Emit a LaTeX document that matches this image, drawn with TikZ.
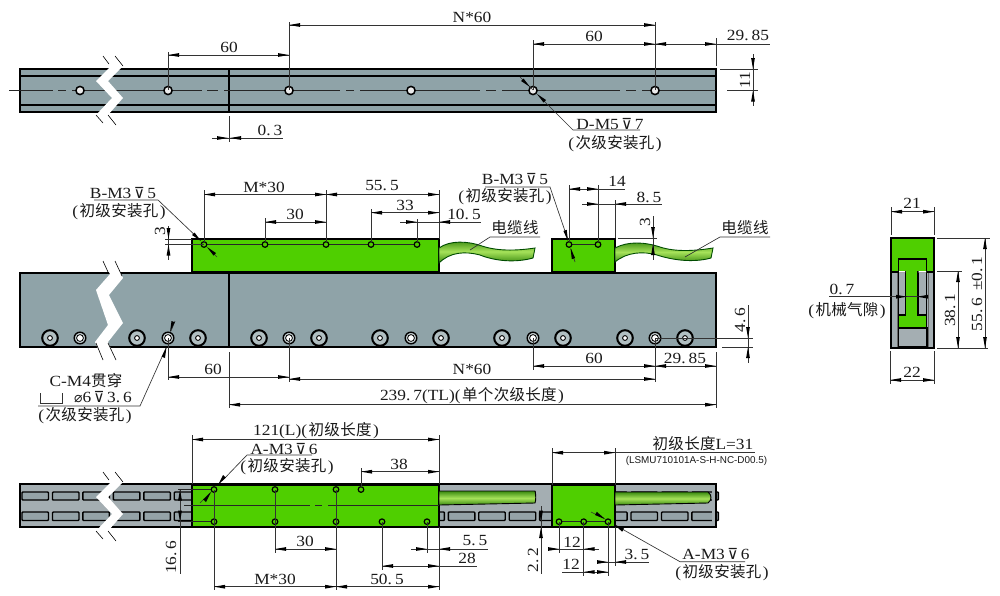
\documentclass[tikz,border=0pt]{standalone}
\usepackage{fontspec}
\setmainfont[FakeStretch=1.12]{Liberation Serif}
\newfontfamily\cjk[LetterSpace=2]{Noto Sans CJK SC}
\newfontfamily\symf{DejaVu Sans}
\newfontfamily\lblsans{Liberation Sans}
\newcommand{\cj}[1]{{\fontsize{15.5pt}{17pt}\cjk #1}}
\newcommand{\dep}{{\symf\fontsize{15pt}{17pt}\selectfont\,⊽\,}}
\newcommand{\pdia}{{\symf\fontsize{14pt}{17pt}\selectfont ⌀}}
\newcommand{\dotk}{.\kern3pt}
\newcommand{\lp}{(\kern1.5pt}
\newcommand{\rp}{\kern1.5pt)}
\newcount\lblc
\definecolor{railc}{HTML}{8FA3A8}
\definecolor{railb}{HTML}{A4AEB2}
\definecolor{slotc}{HTML}{95A3A8}
\definecolor{motor}{HTML}{4FCF00}
\definecolor{tx}{HTML}{1A1A1A}
\definecolor{cabd}{HTML}{3A8A10}
\definecolor{cabl}{HTML}{A6E25A}
\tikzset{
  x=1pt,y=-1pt,
  body/.style={draw=black,line width=1.7pt},
  rail/.style={body,fill=railc},
  railbot/.style={body,fill=railb},
  green/.style={body,fill=motor},
  inner/.style={draw=black,line width=1.3pt},
  dimln/.style={draw=black!80,line width=0.65pt},
  cline/.style={draw=black!85,line width=0.7pt},
  tipf/.style={fill=black,draw=none},
  hole/.style={draw=black,line width=1.5pt,fill=white!92!black},
  ghole/.style={draw=black,line width=1.2pt,fill=motor},
  cable/.style={draw=black!70!green,line width=0.9pt,top color=cabd,bottom color=cabd,middle color=cabl},
  slot/.style={draw=black,line width=1.4pt,fill=slotc,rounded corners=0.8pt},
  txt/.style={text=tx,inner sep=0pt,font=\fontsize{15.5pt}{17pt}\selectfont,align=center},
  brkw/.style={fill=white,draw=none},
  brkt/.style={draw=black,line width=0.6pt},
}
\newcommand{\hln}[3]{\draw[dimln] (#1,#3) -- (#2,#3);}
\newcommand{\vln}[3]{\draw[dimln] (#1,#2) -- (#1,#3);}
\newcommand{\tipr}[2]{\fill[tipf] (#1,#2) -- ++(-11,-1.9) -- ++(0,3.8) -- cycle;}
\newcommand{\tipl}[2]{\fill[tipf] (#1,#2) -- ++(11,-1.9) -- ++(0,3.8) -- cycle;}
\newcommand{\tipu}[2]{\fill[tipf] (#1,#2) -- ++(-1.9,11) -- ++(3.8,0) -- cycle;}
\newcommand{\tipd}[2]{\fill[tipf] (#1,#2) -- ++(-1.9,-11) -- ++(3.8,0) -- cycle;}
\newcommand{\hd}[3]{\hln{#1}{#2}{#3}\tipl{#1}{#3}\tipr{#2}{#3}}
\newcommand{\vd}[3]{\vln{#1}{#2}{#3}\tipu{#1}{#2}\tipd{#1}{#3}}
\newcommand{\lbl}[3]{\global\advance\lblc by 1 \node[txt] (t\the\lblc) at (#1,#2) {#3};}
\newcommand{\lblv}[3]{\global\advance\lblc by 1 \node[txt,rotate=90] (t\the\lblc) at (#1,#2) {#3};}
\newcommand{\brk}[1]{%
  \begin{scope}[yshift=-#1pt]
  \fill[brkw] (103,56) -- (111,66) -- (96,81) -- (112,98) -- (96,115) -- (103,122) -- (116,125) -- (108,115) -- (123,98) -- (108,81) -- (123,66) -- (115,56) -- cycle;
  \draw[brkt] (103,56) -- (109,64) (115,56) -- (123,66);
  \draw[brkt] (96,115) -- (103,123) (108,115) -- (116,125);
  \end{scope}}
\begin{document}
\begin{tikzpicture}
\useasboundingbox[fill=white] (0,0) rectangle (1000,595);

%% ===== top view =====
\draw[rail] (20,69) rectangle (716,112);
\draw[inner] (20,76) -- (716,76) (20,105) -- (716,105);
\draw[line width=2pt] (229,69) -- (229,112);
\foreach \a/\b in {9/53,58/66,72/202,207/218,224/340,346/354,360/480,486/496,502/620,626/636,642/716,728/733,738/758}
  \draw[cline] (\a,90.5) -- (\b,90.5);
\foreach \x in {80,168,289,411,533,655}
  \draw[hole] (\x,90.5) circle (4.1);
\brk{0}
% dims top
\vln{168}{52}{90}\vln{289}{22}{90}\vln{533}{40}{90}\vln{655}{22}{90}\vln{716}{38}{66}
\hd{168}{289}{55}\lbl{229}{47}{60}
\hd{289}{655}{25}\lbl{472}{17}{N*60}
\hd{533}{655}{44}\lbl{594}{36}{60}
\hln{655}{770}{44}\tipl{655}{44}\tipr{716}{44}\lbl{748}{35}{29\dotk 85}
\hln{720}{758}{69}\hln{727}{758}{90.5}
\vln{753}{54}{106}\tipd{753}{69}\tipu{753}{90.5}\lblv{745}{80}{11}
\vln{229}{116}{142}\hln{212}{283}{138}\tipr{228}{138}\tipl{230}{138}\lbl{270}{130}{0\dotk 3}
% D-M5
\draw[dimln] (520,77) -- (533,90);
\fill[tipf] (530,87) -- ++(-9,-6) -- ++(2.5,-2.5) -- cycle;
\draw[dimln] (538,95) -- (573,130) -- (640,130);
\fill[tipf] (537,94) -- ++(9,6) -- ++(-2.5,2.5) -- cycle;
\lbl{610}{124}{D-M5\dep 7}
\lbl{615}{144}{\lp\cj{次级安装孔}\rp}

%% ===== middle view =====
\draw[rail] (20,273) rectangle (716,347);
\draw[line width=2pt] (229,273) -- (229,347);
\fill[brkw] (103,261) -- (110,274) -- (96,290) -- (108,325) -- (95,342) -- (103,360) -- (116,360) -- (108,342) -- (123,323) -- (109,295) -- (123,278) -- (115,261) -- cycle;
\draw[brkt] (103,261) -- (108,272) (115,261) -- (122,276) (96,343) -- (103,360) (108,343) -- (116,360);
\foreach \x in {50,137,198,259,319,380,441,502,563,625,685}{
  \draw[draw=black,line width=2pt,fill=railc!70!white] (\x,338) circle (7.8);
  \draw[draw=black,line width=0.9pt,fill=white] (\x,338) circle (2.4);
}
\foreach \x in {80,168,289,411,533,655}{
  \draw[draw=black,line width=1.4pt,fill=railc!50!white] (\x,338) circle (5.8);
  \draw[draw=black,line width=0.8pt,fill=white] (\x,338) circle (3.4);
}
% motors
\draw[green] (192,239) rectangle (439,272);
\draw[green] (552,239) rectangle (615,272);
\draw[cable] (439,248) .. controls (450,240) and (468,241) .. (482,246) .. controls (497,251) and (515,251) .. (535,248) -- (533,258) .. controls (515,263) and (495,261) .. (480,255) .. controls (465,251) and (450,252) .. (439,263) -- cycle;
\draw[cable] (615,248) .. controls (628,241) and (645,242) .. (660,247) .. controls (675,252) and (695,251) .. (713,248) -- (711,258) .. controls (693,263) and (672,260) .. (657,255) .. controls (643,251) and (627,252) .. (615,262) -- cycle;
\draw[cline] (192,244.5) -- (417,244.5) (569,244.5) -- (598,244.5);
\foreach \x in {204,265,326,371,417,569,598}
  \draw[ghole] (\x,244.5) circle (2.8);
% dims above motor 1
\vln{204}{190}{242}\vln{265}{218}{242}\vln{326}{190}{242}\vln{371}{209}{242}\vln{417}{219}{242}\vln{439}{190}{239}
\hd{204}{326}{194.5}\lbl{264}{187}{M*30}
\hd{326}{439}{194.5}\lbl{382}{186}{55\dotk 5}
\hd{265}{326}{222}\lbl{295}{214}{30}
\hd{371}{439}{212.7}\lbl{405}{205}{33}
\hln{400}{481}{222}\tipr{417}{222}\tipl{439}{222}\lbl{464}{214}{10\dotk 5}
% 3 (left)
\hln{165}{192}{239}\hln{165}{204}{244.5}
\vln{168.5}{226}{260}\tipd{168.5}{239}\tipu{168.5}{244.5}\lblv{160}{231}{3}
% B-M3 left
\lbl{123}{193}{B-M3\dep 5}
\lbl{119}{212}{\lp\cj{初级安装孔}\rp}
\draw[dimln] (94,200) -- (158,200) -- (200,240);
\fill[tipf] (201,241) -- ++(-9,-6) -- ++(2.5,-2.5) -- cycle;
\draw[dimln] (208,248) -- (217,257);
\fill[tipf] (207,247) -- ++(9,6) -- ++(-2.5,2.5) -- cycle;
% B-M3 right
\lbl{515}{179}{B-M3\dep 5}
\lbl{505}{197}{\lp\cj{初级安装孔}\rp}
\draw[dimln] (485,187) -- (550,187) -- (568,240);
\fill[tipf] (568,241) -- ++(-4.6,-10) -- ++(3.3,-1.2) -- cycle;
\draw[dimln] (571,249) -- (575,262);
\fill[tipf] (570.5,248) -- ++(4.6,10) -- ++(-3.3,1.2) -- cycle;
% dims above motor 2
\vln{569}{185}{242}\vln{598}{185}{242}\vln{615}{200}{238}
\hln{569}{625}{189}\tipl{569}{189}\tipr{598}{189}\lbl{617}{181}{14}
\hln{582}{662}{204}\tipr{598}{204}\tipl{615}{204}\lbl{649}{197}{8\dotk 5}
\hln{618}{657}{238}\vln{653}{216}{260}\tipd{653}{238}\tipu{653}{244}\lblv{645}{222}{3}
% cable labels
\lbl{515}{228}{\cj{电缆线}}
\draw[dimln] (540,237) -- (490,237) -- (470,250);
\lbl{745}{228}{\cj{电缆线}}
\draw[dimln] (770,237) -- (720,237) -- (685,257);
% below middle rail
\vln{168}{338}{380}\vln{289}{338}{382}\vln{229}{352}{408}
\vln{533}{338}{370}\vln{655}{338}{382}\vln{716}{352}{408}
\hd{168}{289}{377}\lbl{213}{369}{60}
\hd{289}{655}{379}\lbl{472}{369}{N*60}
\hd{533}{655}{366}\lbl{594}{358}{60}
\hd{655}{716}{366}\lbl{685}{358}{29\dotk 85}
\hd{229}{716}{404.7}\lbl{472}{396}{239\dotk 7(TL)\lp\cj{单个次级长度}\rp}
% 4.6
\hln{655}{753}{338}\hln{722}{753}{347}
\vln{748}{305}{363}\tipd{748}{338}\tipu{748}{347}\lblv{740}{320}{4\dotk 6}
% C-M4
\draw[dimln] (175,321) -- (171,331);
\fill[tipf] (170,332) -- ++(1.5,-11) -- ++(3.3,1.3) -- cycle;
\draw[dimln] (38,406) -- (140,406) -- (166,348);
\fill[tipf] (166.5,347) -- ++(-1.5,11) -- ++(-3.3,-1.3) -- cycle;
\lbl{86}{381}{C-M4\cj{贯穿}}
\draw[dimln,line width=0.9pt] (40,393) -- (40,403) -- (62,403) -- (62,393);
\lbl{103}{397}{\pdia 6\dep 3\dotk 6}
\lbl{85}{416}{\lp\cj{次级安装孔}\rp}

%% ===== bottom view =====
\draw[railbot] (20,484) rectangle (716,527);
\foreach \k in {0,...,22}{
  \pgfmathsetmacro{\xa}{22+30.45*\k}
  \pgfmathsetmacro{\xb}{\xa+26.5}
  \draw[slot] (\xa,492) rectangle (\xb,500);
  \draw[slot] (\xa,512) rectangle (\xb,520.5);
}
\fill[railb] (712,488) rectangle (715,526);
\draw[line width=1.7pt] (716,484) -- (716,527);
\brk{416}
\fill[railb] (536,489) rectangle (551,503);
\draw[green] (192,485) rectangle (439,527);
\draw[green] (552,485) rectangle (615,527);
\draw[cable,draw=black] (439,491) -- (535,491) .. controls (536,495) and (536,500) .. (535,503) -- (439,505) -- cycle;
\draw[cable,draw=black] (615,492) -- (708,492) .. controls (712,495) and (712,500) .. (708,503) -- (615,505) -- cycle;
% centre line
\foreach \a/\b in {184/310,315/322,328/439}
  \draw[cline] (\a,505.7) -- (\b,505.7);
\draw[cline] (178,489.5) -- (214,489.5) (178,521.7) -- (214,521.7);
\draw[cline] (559,521.7) -- (608,521.7);
\foreach \x/\y in {214/489.5,275/489.5,336/489.5,361/489.5,214/521.7,275/521.7,336/521.7,382/521.7,427/521.7,559/521.7,583.7/521.7,608/521.7}
  \draw[ghole] (\x,\y) circle (2.8);
\vln{214}{490}{590}\vln{275}{490}{553}\vln{336}{490}{590}
% dims top
\vln{192}{435}{484}\vln{439}{435}{484}\vln{361}{468}{487}
\hd{192}{439}{439.5}\lbl{316}{431}{121(L)\lp\cj{初级长度}\rp}
\hd{361}{439}{471.7}\lbl{399}{464}{38}
% A-M3 left
\lbl{284}{449}{A-M3\dep 6}
\lbl{287}{467}{\lp\cj{初级安装孔}\rp}
\draw[dimln] (312,455) -- (247,455) -- (222,481);
\fill[tipf] (218,485) -- ++(5,-10) -- ++(2.8,2.5) -- cycle;
\draw[dimln] (200,503) -- (210,493);
\fill[tipf] (211,492) -- ++(-5,10) -- ++(-2.8,-2.5) -- cycle;
% 16.6
\vln{180}{489.5}{574}\tipu{180}{489.5}\tipd{180}{521.7}\lblv{171}{557}{16\dotk 6}
% dims bottom motor 1
\vln{382}{522}{570}\vln{427}{522}{553}\vln{439}{527}{590}
\hd{275}{336}{549}\lbl{305}{541}{30}
\hd{214}{336}{586.7}\lbl{275}{579}{M*30}
\hd{336}{439}{586.7}\lbl{387}{579}{50\dotk 5}
\hln{411}{488}{549}\tipr{427}{549}\tipl{439}{549}\lbl{475}{541}{5\dotk 5}
\hln{382}{477}{566}\tipl{382}{566}\tipr{439}{566}\lbl{467}{558}{28}
% motor 2 dims
\vln{552}{448}{485}\vln{615}{448}{485}
\hln{552}{755}{452.7}\tipl{552}{452.7}\tipr{615}{452.7}
\lbl{703}{444}{\cj{初级长度}L=31}
\global\advance\lblc by 1
\node[txt,font=\lblsans\fontsize{9.9pt}{11pt}\selectfont] (t\the\lblc) at (696.5,461) {(LSMU710101A-S-H-NC-D00.5)};
\vln{541}{506}{574}\tipd{541}{521.7}\tipu{541}{527}\lblv{533}{560}{2\dotk 2}
\vln{559}{522}{553}\vln{583.7}{522}{576}\vln{608}{522}{576}\vln{615}{527}{566}
\hln{548}{599}{549}\tipr{559}{549}\tipl{583.7}{549}\lbl{572}{542}{12}
\hln{562}{608}{572}\tipl{583.7}{572}\tipr{608}{572}\lbl{571}{564}{12}
\hln{597}{649}{562}\tipr{608}{562}\tipl{615}{562}\lbl{637}{554}{3\dotk 5}
% A-M3 right
\lbl{716}{554}{A-M3\dep 6}
\lbl{722}{573}{\lp\cj{初级安装孔}\rp}
\draw[dimln] (745,561.7) -- (680,561.7) -- (615,525);
\fill[tipf] (614,524.5) -- ++(10,4) -- ++(-1.8,3.2) -- cycle;
\draw[dimln] (591,512) -- (604,518.5);
\fill[tipf] (605,519) -- ++(-10,-4) -- ++(1.8,-3.2) -- cycle;

%% ===== end view =====
\draw[body,fill=railb] (891,271) rectangle (934,348);
\draw[cline,draw=black!60] (897.5,271) -- (897.5,348) (928,271) -- (928,348);
\draw[green] (891,238) rectangle (934,272);
\draw[inner,fill=motor] (898.5,259) rectangle (926.5,328);
\draw[inner,fill=railb] (898.5,272) rectangle (905.5,315);
\draw[inner,fill=railb] (918,272) rectangle (926.5,315);
\fill[white] (899,271) rectangle (905,272.5) (918.5,271) rectangle (926,272.5);
\draw[inner,fill=railb] (898.5,328) rectangle (927,347);
\draw[line width=1.7pt] (891,348) -- (934,348);
% end dims
\vln{891}{207}{235}\vln{934}{207}{235}
\hd{891}{934}{211.7}\lbl{912}{203}{21}
\vln{890}{351}{384}\vln{934}{351}{384}
\hd{890}{934}{380}\lbl{912}{372}{22}
\hln{937}{962}{271}\hln{937}{988}{348}\hln{937}{990}{238}
\vd{958}{271}{348}\lblv{950}{310}{38\dotk 1}
\vd{985}{238}{348}\lblv{977}{294}{55\dotk 6 \,±0\dotk 1}
\hln{829}{923}{296.7}\tipr{907}{296.7}\tipl{917}{296.7}
\lbl{842}{289}{0\dotk 7}
\lbl{847}{311}{\lp\cj{机械气隙}\rp}
\end{tikzpicture}
\end{document}
